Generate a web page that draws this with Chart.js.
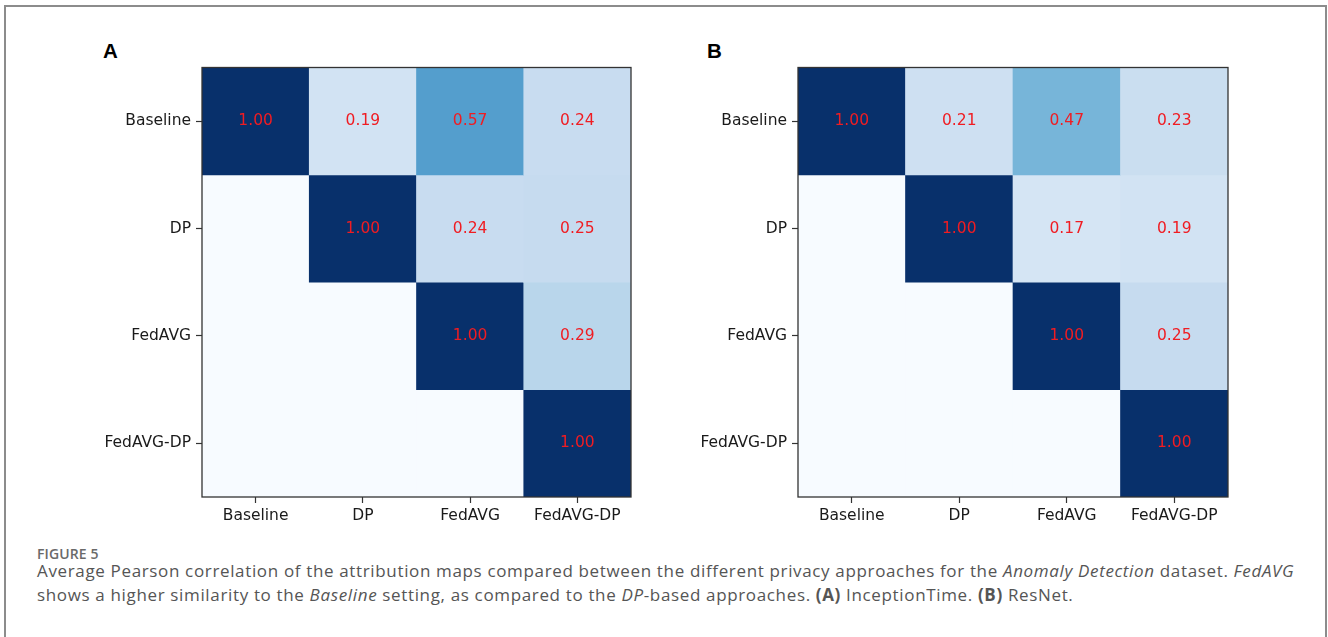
<!DOCTYPE html>
<html>
<head>
<meta charset="utf-8">
<script src="https://cdn.jsdelivr.net/npm/chart.js@4.4.1/dist/chart.umd.min.js"></script>
<style>
  html, body { margin: 0; padding: 0; background: #ffffff; }
  body { width: 1328px; height: 637px; position: relative; overflow: hidden; }
  .frame {
    position: absolute; left: 4px; top: 5px; width: 1319px; height: 700px;
    border: 2px solid #8c8c8c; box-sizing: content-box;
  }
  .panel-letter {
    position: absolute; font-family: "Liberation Sans", Arial, sans-serif;
    font-weight: bold; font-size: 20.5px; line-height: 20.5px; color: #000;
  }
  canvas.heat { position: absolute; }
  .caption {
    position: absolute; left: 37px; top: 545px; width: 1285px;
    font-family: "Open Sans", sans-serif; color: #555555;
  }
  .caption .fig {
    font-size: 14px; font-weight: 600; color: #6a6a6a; letter-spacing: 0.1px;
    line-height: 17px;
  }
  .caption .text {
    font-size: 17px; line-height: 24px; font-weight: 400; letter-spacing: 0.65px;
    margin-top: -3px; white-space: nowrap;
  }
  .caption b { font-weight: 700; color: #555555; }
</style>
</head>
<body>
<div class="frame"></div>

<div class="panel-letter" style="left:103px; top:40.5px;">A</div>
<div class="panel-letter" style="left:707px; top:40.5px;">B</div>

<canvas id="heatA" class="heat" width="540" height="477" style="left:100px; top:60px;"></canvas>
<canvas id="heatB" class="heat" width="540" height="477" style="left:696px; top:60px;"></canvas>

<div class="caption">
  <div class="fig">FIGURE 5</div>
  <div class="text">Average Pearson correlation of the attribution maps compared between the different privacy approaches for the <i>Anomaly Detection</i> dataset. <i>FedAVG</i><br>shows a higher similarity to the <i>Baseline</i> setting, as compared to the <i>DP</i>-based approaches. <b>(A)</b> InceptionTime. <b>(B)</b> ResNet.</div>
</div>

<script>
// Privacy settings compared on both axes
const categories = ['Baseline', 'DP', 'FedAVG', 'FedAVG-DP'];

// Average Pearson correlation, InceptionTime (upper triangle, zeros below the diagonal)
const inceptionBaseline = [1.00, 0.19, 0.57, 0.24];
const inceptionDP       = [0.00, 1.00, 0.24, 0.25];
const inceptionFedAVG   = [0.00, 0.00, 1.00, 0.29];
const inceptionFedAVGDP = [0.00, 0.00, 0.00, 1.00];

// Average Pearson correlation, ResNet
const resnetBaseline = [1.00, 0.21, 0.47, 0.23];
const resnetDP       = [0.00, 1.00, 0.17, 0.19];
const resnetFedAVG   = [0.00, 0.00, 1.00, 0.25];
const resnetFedAVGDP = [0.00, 0.00, 0.00, 1.00];

const inceptionRows = [inceptionBaseline, inceptionDP, inceptionFedAVG, inceptionFedAVGDP];
const resnetRows    = [resnetBaseline, resnetDP, resnetFedAVG, resnetFedAVGDP];

// Sequential "Blues" colour scale (ColorBrewer 9-class anchors)
const bluesStops = ['#f7fbff', '#deebf7', '#c6dbef', '#9ecae1', '#6baed6',
                    '#4292c6', '#2171b5', '#08519c', '#08306b'];
function hexToRgb(h) {
  return [parseInt(h.slice(1, 3), 16), parseInt(h.slice(3, 5), 16), parseInt(h.slice(5, 7), 16)];
}
function blues(v) {
  const t = Math.max(0, Math.min(1, v)) * (bluesStops.length - 1);
  const i = Math.min(Math.floor(t), bluesStops.length - 2);
  const f = t - i;
  const a = hexToRgb(bluesStops[i]), b = hexToRgb(bluesStops[i + 1]);
  const c = a.map((x, k) => Math.round(x + (b[k] - x) * f));
  return `rgb(${c[0]},${c[1]},${c[2]})`;
}

const tickFont = { family: '"DejaVu Sans", sans-serif', size: 15.5 };
const axisColor = '#333333';

// Writes each upper-triangle value in the centre of its cell
const cellValueLabels = {
  id: 'cellValueLabels',
  afterDatasetsDraw(chart) {
    const rows = chart.config.options.plugins.cellValueLabels.rows;
    const ctx = chart.ctx;
    ctx.save();
    ctx.font = `${tickFont.size}px ${tickFont.family}`;
    ctx.fillStyle = '#f01c22';
    ctx.textAlign = 'center';
    ctx.textBaseline = 'middle';
    rows.forEach((row, r) => {
      const meta = chart.getDatasetMeta(r);
      meta.data.forEach((bar, c) => {
        if (c >= r) {
          ctx.fillText(row[c].toFixed(2), bar.x, (bar.y + bar.base) / 2);
        }
      });
    });
    ctx.restore();
  }
};

// Closed frame round the image area
const plotFrame = {
  id: 'plotFrame',
  afterDraw(chart) {
    const a = chart.chartArea, ctx = chart.ctx;
    ctx.save();
    ctx.strokeStyle = axisColor;
    ctx.lineWidth = 1.3;
    ctx.strokeRect(a.left, a.top, a.right - a.left, a.bottom - a.top);
    ctx.restore();
  }
};

function makeHeatmap(canvasId, rows, padRight) {
  const datasets = rows.map((row, r) => ({
    label: categories[r],
    data: categories.map(() => [r - 0.5, r + 0.5]),
    backgroundColor: row.map(blues),
    borderWidth: 0,
    barPercentage: 1,
    categoryPercentage: 1,
    grouped: false
  }));

  return new Chart(document.getElementById(canvasId), {
    type: 'bar',
    data: { labels: categories, datasets },
    options: {
      responsive: false,
      maintainAspectRatio: false,
      devicePixelRatio: 1,
      animation: false,
      layout: { padding: { top: 7.5, right: padRight, left: 0, bottom: 0 } },
      plugins: {
        legend: { display: false },
        tooltip: { enabled: false },
        cellValueLabels: { rows }
      },
      scales: {
        x: {
          type: 'category',
          offset: true,
          border: { display: false },
          grid: {
            display: true, drawOnChartArea: false, drawTicks: true,
            offset: false, tickLength: 6, tickWidth: 1.2, color: axisColor
          },
          ticks: { font: tickFont, color: '#1a1a1a', padding: 4, maxRotation: 0, autoSkip: false },
          afterFit(scale) {
            scale.height = 40;
            scale.paddingLeft = 0;
            scale.paddingRight = 0;
          }
        },
        y: {
          type: 'linear',
          min: -0.5,
          max: 3.5,
          reverse: true,
          border: { display: false },
          grid: {
            display: true, drawOnChartArea: false, drawTicks: true,
            tickLength: 6, tickWidth: 1.2, color: axisColor
          },
          afterBuildTicks(scale) {
            scale.ticks = categories.map((_, i) => ({ value: i }));
          },
          ticks: {
            font: tickFont, color: '#1a1a1a', padding: 5, autoSkip: false,
            callback: (v) => categories[v]
          },
          afterFit(scale) {
            scale.width = 102;
            scale.paddingTop = 0;
            scale.paddingBottom = 0;
          }
        }
      }
    },
    plugins: [cellValueLabels, plotFrame]
  });
}

makeHeatmap('heatA', inceptionRows, 9);
makeHeatmap('heatB', resnetRows, 8);
</script>
</body>
</html>
